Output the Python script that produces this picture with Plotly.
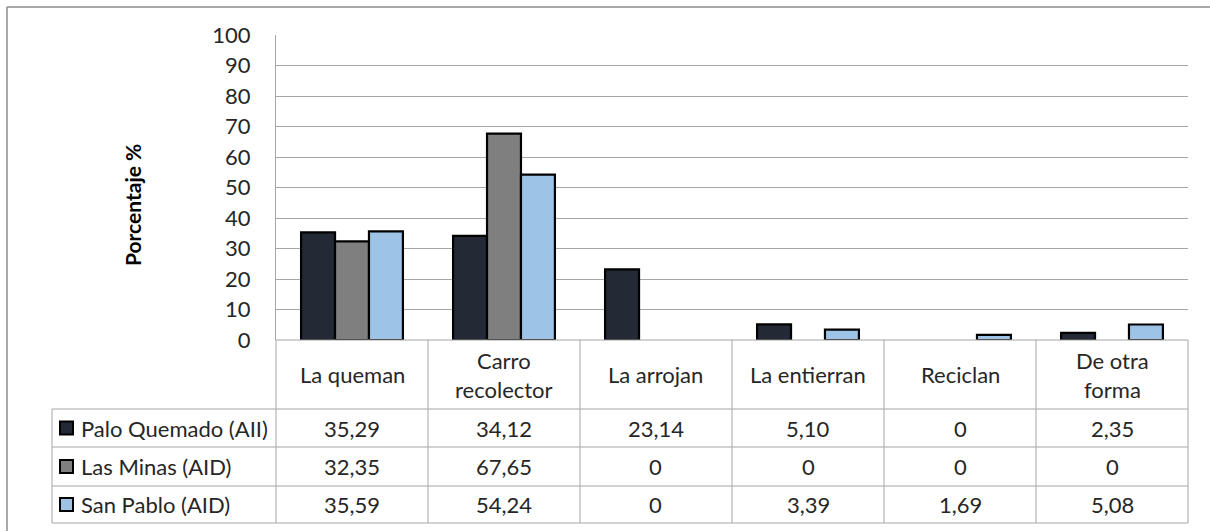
import plotly.graph_objects as go

categories = ["La queman", "Carro<br>recolector", "La arrojan", "La entierran", "Reciclan", "De otra<br>forma"]
series_names = ["Palo Quemado (AII)", "Las Minas (AID)", "San Pablo (AID)"]
palo_quemado = [35.29, 34.12, 23.14, 5.10, 0, 2.35]
las_minas = [32.35, 67.65, 0, 0, 0, 0]
san_pablo = [35.59, 54.24, 0, 3.39, 1.69, 5.08]
y_ticks = [0, 10, 20, 30, 40, 50, 60, 70, 80, 90, 100]
y_title = "Porcentaje %"

series_values = [palo_quemado, las_minas, san_pablo]
colors = ["#232a35", "#7f7f7f", "#9dc3e6"]

W, H = 1210, 531
FONT = "Lato"
FS = 22
GRID = "#a6a6a6"
TXT = "#262626"


def px(x):
    return x / W


def py(y):
    return 1 - y / H


# layout (pixels)
PLOT_L, PLOT_R, PLOT_T, PLOT_B = 276, 1188, 35, 340
TABLE_L = 52
ROW_LINES = [409, 447, 486, 523]

fig = go.Figure()
x_idx = list(range(len(categories)))
for name, vals, col in zip(series_names, series_values, colors):
    fig.add_trace(go.Bar(
        x=x_idx, y=vals, name=name,
        marker=dict(color=col,
                    line=dict(color="#000000", width=[0 if v == 0 else 2.2 for v in vals])),
        showlegend=False,
    ))

fig.update_layout(
    template="none",
    width=W, height=H,
    margin=dict(l=0, r=0, t=0, b=0, pad=0),
    paper_bgcolor="white", plot_bgcolor="white",
    barmode="group", bargap=0.33, bargroupgap=0,
    font=dict(family=FONT, size=FS, color=TXT),
    xaxis=dict(domain=[px(PLOT_L), px(PLOT_R)], range=[-0.5, len(categories) - 0.5],
               showticklabels=False, showgrid=False, zeroline=False, showline=False,
               automargin=False),
    yaxis=dict(domain=[py(PLOT_B), py(PLOT_T)], range=[0, 100], tickvals=y_ticks,
               showgrid=True, gridcolor=GRID, gridwidth=1, zeroline=False,
               showline=True, linecolor=GRID, linewidth=1,
               ticks="", ticklabelstandoff=20, automargin=False,
               tickfont=dict(family=FONT, size=FS, color=TXT)),
)

shapes = []
line_style = dict(color=GRID, width=1)
# outer chart border (top and left)
shapes.append(dict(type="line", xref="paper", yref="paper", x0=px(7), x1=px(W), y0=py(7), y1=py(7),
                   line=dict(color="#8c8c8c", width=1.5)))
shapes.append(dict(type="line", xref="paper", yref="paper", x0=px(7), x1=px(7), y0=py(7), y1=py(H),
                   line=dict(color="#8c8c8c", width=1.5)))
# x axis line / header top
shapes.append(dict(type="line", xref="paper", yref="paper", x0=px(PLOT_L), x1=px(PLOT_R),
                   y0=py(PLOT_B), y1=py(PLOT_B), line=line_style))
# vertical lines of table
n = len(categories)
col_w = (PLOT_R - PLOT_L) / n
for i in range(n + 1):
    xv = PLOT_L + i * col_w
    shapes.append(dict(type="line", xref="paper", yref="paper", x0=px(xv), x1=px(xv),
                       y0=py(PLOT_B), y1=py(ROW_LINES[-1]), line=line_style))
shapes.append(dict(type="line", xref="paper", yref="paper", x0=px(TABLE_L), x1=px(TABLE_L),
                   y0=py(ROW_LINES[0]), y1=py(ROW_LINES[-1]), line=line_style))
for yl in ROW_LINES:
    shapes.append(dict(type="line", xref="paper", yref="paper", x0=px(TABLE_L), x1=px(PLOT_R),
                       y0=py(yl), y1=py(yl), line=line_style))

annotations = []
# header labels
for i, c in enumerate(categories):
    annotations.append(dict(xref="paper", yref="paper", x=px(PLOT_L + (i + 0.5) * col_w),
                            y=py((PLOT_B + ROW_LINES[0]) / 2), text=c, showarrow=False,
                            xanchor="center", yanchor="middle",
                            font=dict(family=FONT, size=FS, color=TXT)))


def fmt(v):
    return "0" if v == 0 else f"{v:.2f}".replace(".", ",")


for r, (name, vals, col) in enumerate(zip(series_names, series_values, colors)):
    yc = (ROW_LINES[r] + ROW_LINES[r + 1]) / 2
    # legend key
    shapes.append(dict(type="rect", xref="paper", yref="paper", x0=px(60), x1=px(73),
                       y0=py(yc + 6.5), y1=py(yc - 6.5), fillcolor=col,
                       line=dict(color="#000000", width=2)))
    annotations.append(dict(xref="paper", yref="paper", x=px(79), y=py(yc), text=name,
                            showarrow=False, xanchor="left", yanchor="middle",
                            font=dict(family=FONT, size=FS, color=TXT)))
    for i, v in enumerate(vals):
        annotations.append(dict(xref="paper", yref="paper", x=px(PLOT_L + (i + 0.5) * col_w),
                                y=py(yc), text=fmt(v), showarrow=False,
                                xanchor="center", yanchor="middle",
                                font=dict(family=FONT, size=FS, color=TXT)))

# y axis title
annotations.append(dict(xref="paper", yref="paper", x=px(132), y=py(205), text=f"<b>{y_title}</b>",
                        textangle=-90, showarrow=False, xanchor="center", yanchor="middle",
                        font=dict(family=FONT, size=21, color="#000000")))

fig.update_layout(shapes=shapes, annotations=annotations)
fig.write_html("out.html", config={"displayModeBar": False},
               post_script="document.body.style.margin='0';")
